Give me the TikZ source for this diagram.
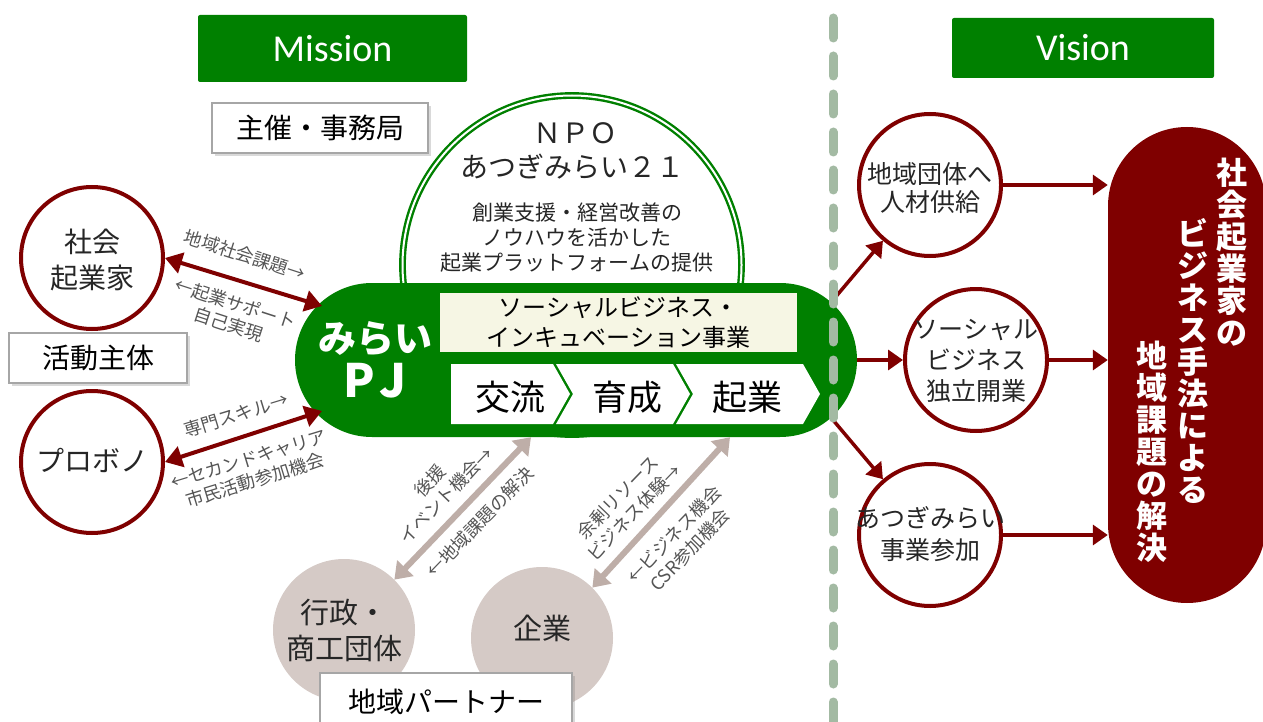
\documentclass[tikz,border=0pt]{standalone}
\usepackage{fontspec}
\setmainfont{Noto Sans CJK JP}
\newfontfamily\titlefont{Carlito}
\usepackage{tikz}
\usetikzlibrary{arrows.meta}
\usetikzlibrary{shapes, shadows}
\definecolor{pjgreen}{RGB}{0,128,0}
\definecolor{darkred}{RGB}{127,0,0}
\definecolor{partnerfill}{RGB}{213,202,198}
\definecolor{partnerline}{RGB}{190,174,168}
\definecolor{paleyellow}{RGB}{246,246,228}
\definecolor{divider}{RGB}{163,186,163}
\definecolor{labelgray}{RGB}{85,85,85}

\begin{document}
\begin{tikzpicture}[x=1pt, y=-1pt]
\tikzstyle{title} = [fill=pjgreen, text=white, rounded corners=2pt, inner sep=0pt, font=\titlefont\fontsize{38}{40}\selectfont]
\tikzstyle{tag} = [draw=black!35, line width=1.2pt, fill=white, inner sep=0pt, drop shadow={shadow xshift=3pt, shadow yshift=-3pt, opacity=0.3}, font=\fontsize{28}{32}\selectfont]
\tikzstyle{member} = [circle, draw=darkred, line width=4pt, fill=white, minimum size=142pt, inner sep=0pt]
\tikzstyle{partner} = [circle, fill=partnerfill, minimum size=142pt, inner sep=0pt]
\tikzstyle{inner text} = [align=center, inner sep=0pt, text=black!85]
\tikzstyle{flow text} = [align=center, inner sep=0pt, text=labelgray, font=\fontsize{18}{22}\selectfont]
\tikzstyle{step text} = [inner sep=0pt, font=\fontsize{35}{38}\selectfont]
\tikzstyle{goal text} = [align=center, inner sep=0pt, anchor=north, text=white, font=\fontsize{31}{32}\selectfont\bfseries]
\tikzstyle{member edge} = [{Triangle[length=17pt,width=21pt]}-{Triangle[length=17pt,width=21pt]}, darkred, line width=4pt]
\tikzstyle{partner edge} = [{Triangle[length=16pt,width=22pt]}-{Triangle[length=16pt,width=22pt]}, partnerline, line width=6pt]
\tikzstyle{vision edge} = [-{Triangle[length=15pt,width=20pt]}, darkred, line width=3.5pt]

\useasboundingbox (0,0) rectangle (1263,722);

\node[title, minimum width=269pt, minimum height=67pt] (mission) at (332.5,48.5) {Mission};
\node[title, minimum width=262pt, minimum height=60pt] (vision) at (1083,48) {Vision};

\node[tag, minimum width=216pt, minimum height=50pt] (host) at (320,128) {主催・事務局};

\node[circle, draw=pjgreen, double=white, double distance=2pt, line width=2.4pt, fill=white, minimum size=339pt] (npo) at (572,265) {};
\node[inner text, font=\fontsize{28}{30}\selectfont] (nponame) at (575,133) {ＮＰＯ};
\node[inner text, font=\fontsize{28}{30}\selectfont] (npoorg) at (572,167) {あつぎみらい２１};
\node[inner text, font=\fontsize{21}{25}\selectfont] (npotext) at (577,238) {創業支援・経営改善の\\ノウハウを活かした\\起業プラットフォームの提供};

\node[fill=pjgreen, rounded corners=77pt, minimum width=562pt, minimum height=154pt, inner sep=0pt] (pj) at (576,360) {};
\node[align=center, inner sep=0pt, text=white, font=\fontsize{38}{45}\selectfont\bfseries] (pjname) at (375,360) {みらい\\{\fontsize{46}{45}\selectfont P\kern5pt J}};
\node[fill=paleyellow, minimum width=357pt, minimum height=59pt, inner sep=0pt, align=center, font=\fontsize{24}{30}\selectfont] (incubation) at (618.5,322.5) {ソーシャルビジネス・\\インキュベーション事業};

\fill[white] (451,364) -- (553,364) -- (570,394) -- (553,424) -- (451,424) -- cycle;
\fill[white] (556,364) -- (673,364) -- (690,394) -- (673,424) -- (556,424) -- (573,394) -- cycle;
\fill[white] (676,364) -- (803,364) -- (820,394) -- (803,424) -- (676,424) -- (693,394) -- cycle;
\node[step text] (meet) at (510,397) {交流};
\node[step text] (grow) at (627,397) {育成};
\node[step text] (start) at (747,397) {起業};

\coordinate (pjnw) at (322,306);
\coordinate (pjsw) at (322,411);
\coordinate (pjne) at (833,300);
\coordinate (pjse) at (833,420);

\node[member] (founder) at (92,258) {};
\node[inner text, font=\fontsize{28}{36}\selectfont] (foundert) at (92,260) {社会\\起業家};
\node[member] (probono) at (92,462) {};
\node[inner text, font=\fontsize{28}{32}\selectfont] (probonot) at (92,460) {プロボノ};
\node[tag, minimum width=178pt, minimum height=50pt] (actor) at (98,358) {活動主体};

\draw[member edge] (founder.east) -- (pjnw);
\draw[member edge] (probono.east) -- (pjsw);
\node[flow text, rotate=-18] (up1) at (245,255) {地域社会課題→};
\node[flow text, rotate=-18] (down1) at (232,314) {←起業サポート\\自己実現};
\node[flow text, rotate=17] (up2) at (236,415) {専門スキル→};
\node[flow text, rotate=17] (down2) at (252,470) {←セカンドキャリア\\市民活動参加機会};

\node[partner] (office) at (344,630) {};
\node[inner text, font=\fontsize{29}{36}\selectfont] (officet) at (344,630) {行政・\\商工団体};
\node[partner] (company) at (542,638) {};
\node[inner text, font=\fontsize{29}{32}\selectfont] (companyt) at (542,628) {企業};

\draw[partner edge] (office.45) -- ([xshift=-45pt]pj.south);
\draw[partner edge] (company.45) -- ([xshift=154pt]pj.south);
\node[flow text, rotate=46] (up3) at (438,488) {後援\\イベント機会→};
\node[flow text, rotate=46] (down3) at (480,522) {←地域課題の解決};
\node[flow text, rotate=46] (up4) at (626,505) {余剰リソース\\ビジネス体験→};
\node[flow text, rotate=46] (down4) at (682,542) {←ビジネス機会\\CSR参加機会};

\node[tag, minimum width=252pt, minimum height=58pt] (partners) at (446,702) {地域パートナー};

\node[member] (supply) at (930,185) {};
\node[member] (business) at (976,360) {};
\node[member] (join) at (930,535) {};
\draw[vision edge] (pjne) -- (supply);
\draw[vision edge] (pj.east) -- (business);
\draw[vision edge] (pjse) -- (join);

\draw[divider, line width=9pt, line cap=round, dash pattern=on 20pt off 18pt] (833,18) -- (833,722);

\node[inner text, font=\fontsize{25}{28}\selectfont] (supplyt) at (930,188) {地域団体へ\\人材供給};
\node[inner text, font=\fontsize{25}{31}\selectfont] (businesst) at (976,361) {ソーシャル\\ビジネス\\独立開業};
\node[inner text, font=\fontsize{25}{32}\selectfont] (joint) at (930,534) {あつぎみらい\\事業参加};

\node[fill=darkred, rounded corners=79pt, minimum width=158pt, minimum height=476pt, inner sep=0pt] (goal) at (1187,365) {};
\draw[vision edge] (supply.east) -- (supply.east -| goal.west);
\draw[vision edge] (business.east) -- (business.east -| goal.west);
\draw[vision edge] (join.east) -- (join.east -| goal.west);

\node[goal text] (goal1) at (1232,158) {社\\会\\起\\業\\家\\の};
\node[goal text] (goal2) at (1193,218) {ビ\\ジ\\ネ\\ス\\手\\法\\に\\よ\\る};
\node[goal text] (goal3) at (1152,341) {地\\域\\課\\題\\の\\解\\決};
\end{tikzpicture}
\end{document}
